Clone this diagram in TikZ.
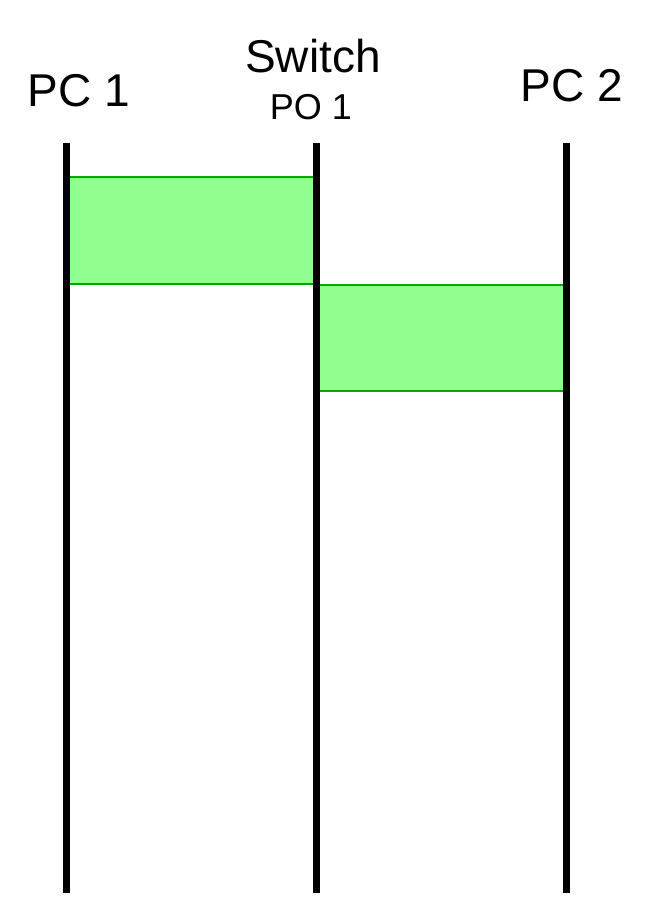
\documentclass[tikz,border=0pt]{standalone}
\usepackage{fontspec}
\setmainfont{Liberation Sans}
\usepackage{tikz}
\usetikzlibrary{positioning}
\definecolor{frameFill}{RGB}{144, 255, 144}
\definecolor{frameEdge}{RGB}{0, 170, 0}

\begin{document}
\begin{tikzpicture}[
  x=1pt, y=-1pt,
  lifeline/.style={line width=7pt, black},
  frame/.style={draw=frameEdge, fill=frameFill, line width=2.5pt},
  host/.style={inner sep=0pt, anchor=base, font=\fontsize{46}{46}\selectfont}
]
  \useasboundingbox (0,0) rectangle (667,921);

  % --- Lifeline ends ---
  \coordinate (pc1top) at (66,143);
  \coordinate (pc1bot) at (66,893);
  \coordinate (swtop)  at (316,143);
  \coordinate (swbot)  at (316,893);
  \coordinate (pc2top) at (566,143);
  \coordinate (pc2bot) at (566,893);

  % --- Frames on the wire ---
  \draw[frame] (66,177) rectangle (316,284);
  \draw[frame] (316,285) rectangle (566,391);

  % --- Lifelines ---
  \draw[lifeline] (pc1top) -- (pc1bot);
  \draw[lifeline] (swtop) -- (swbot);
  \draw[lifeline] (pc2top) -- (pc2bot);

  % Labels
  \node[host] (pc1) at (79,106) {PC 1};
  \node[host] (sw)  at (313,72) {Switch};
  \node[host, font=\fontsize{36}{36}\selectfont] (po1) at (311,119) {PO 1};
  \node[host] (pc2) at (572,101) {PC 2};
\end{tikzpicture}
\end{document}
